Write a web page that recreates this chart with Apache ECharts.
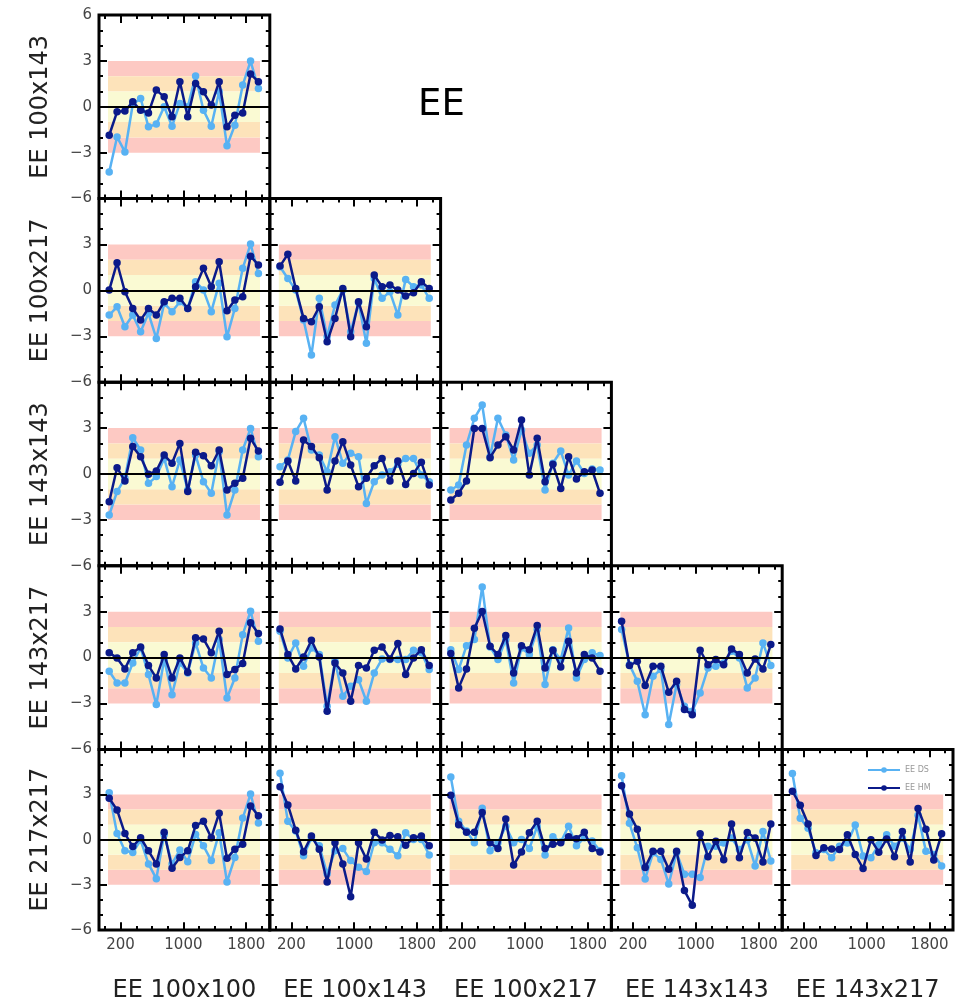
<!DOCTYPE html>
<html><head><meta charset="utf-8">
<script src="https://cdn.jsdelivr.net/npm/echarts@6/dist/echarts.min.js"></script>
<style>html,body{margin:0;padding:0;background:#fff}#c{width:965px;height:1004px}</style>
</head><body><div id="c"></div>
<script>
// multipole bin centres
const ELL = [55,155,255,355,455,555,655,755,855,955,1055,1155,1255,1355,1455,1555,1655,1755,1855,1955];
const ROW_LABELS = ['EE 100x143','EE 100x217','EE 143x143','EE 143x217','EE 217x217'];
const COL_LABELS = ['EE 100x100','EE 100x143','EE 100x217','EE 143x143','EE 143x217'];
const X_MAJOR = [200,1000,1800];
const X_MINOR = [0,400,600,800,1200,1400,1600,2000];
const Y_MAJOR = [-3,0,3];
const Y_MINOR = [-5,-4,-2,-1,1,2,4,5];
const SERIES_NAMES = ['EE DS','EE HM'];

const DS_0_0 = [-4.26,-1.97,-2.95,0.17,0.55,-1.31,-1.13,0.0,-1.27,0.22,0.0,2.01,-0.22,-1.27,1.0,-2.55,-1.2,1.42,2.99,1.2];
const HM_0_0 = [-1.86,-0.33,-0.28,0.33,-0.22,-0.4,1.09,0.65,-0.65,1.64,-0.65,1.53,0.98,0.11,1.64,-1.31,-0.55,-0.4,2.14,1.64];

const DS_1_0 = [-1.61,-1.07,-2.38,-1.61,-2.70,-1.50,-3.14,-0.85,-1.39,-0.74,-1.18,0.57,0.02,-1.39,0.46,-3.03,-1.18,1.44,3.03,1.11];
const HM_1_0 = [0.02,1.81,-0.09,-1.18,-1.94,-1.18,-1.61,-0.74,-0.52,-0.52,-1.18,0.24,1.44,0.24,1.87,-1.33,-0.63,-0.41,2.24,1.66];
const DS_1_1 = [1.55,0.78,0.02,-1.94,-4.23,-0.52,-3.03,-0.96,0.02,-2.70,-0.8,-3.46,0.78,-0.52,-0.09,-1.61,0.72,0.24,0.35,-0.52];
const HM_1_1 = [1.59,2.37,0.13,-1.83,-2.05,-1.07,-3.36,-1.83,0.13,-3.03,-0.74,-2.38,1.00,0.24,0.35,0.02,-0.37,-0.15,0.57,0.13];

const DS_2_0 = [-2.68,-1.15,-0.28,2.37,1.57,-0.61,-0.17,1.02,-0.83,0.92,-1.05,1.24,-0.50,-1.26,1.46,-2.68,-1.05,1.57,2.98,1.13];
const HM_2_0 = [-1.81,0.41,-0.46,1.79,1.13,-0.02,0.20,1.24,0.70,2.00,-1.15,1.42,1.20,0.54,1.57,-1.05,-0.61,-0.28,2.33,1.50];
const DS_2_1 = [0.48,0.92,2.77,3.64,1.57,1.24,0.15,2.44,0.70,1.35,1.13,-1.92,-0.50,-0.07,0.15,0.63,1.02,1.02,-0.07,-0.50];
const HM_2_1 = [-0.54,0.85,-0.46,2.22,1.79,1.07,-1.05,0.85,2.11,0.59,-0.83,-0.28,0.54,1.02,-0.46,0.85,-0.68,0.04,0.76,-0.72];
const DS_2_2 = [-1.05,-0.72,1.90,3.64,4.51,1.13,3.64,2.55,0.92,2.88,1.35,1.90,-1.05,0.70,1.50,-0.07,0.85,0.04,0.33,0.26];
const HM_2_2 = [-1.70,-1.26,-0.46,2.98,2.98,1.07,1.90,2.44,1.57,3.53,-0.07,2.33,-0.50,0.63,-0.94,1.13,-0.33,0.15,0.26,-1.26];

const DS_3_0 = [-0.89,-1.66,-1.66,-0.35,0.63,-1.11,-3.07,-0.13,-2.42,-0.35,-1.0,0.96,-0.68,-1.33,1.18,-2.64,-1.33,1.50,3.03,1.07];
const HM_3_0 = [0.31,-0.02,-0.74,0.31,0.70,-0.52,-1.33,0.20,-1.33,-0.02,-0.96,1.29,1.22,0.31,1.72,-1.11,-0.78,-0.39,2.27,1.57];
const DS_3_1 = [1.72,-0.02,0.96,-0.57,0.63,0.20,-3.18,-0.24,-2.53,-1.87,-1.44,-2.85,-1.00,-0.09,-0.13,-0.13,-0.13,0.48,0.31,-0.78];
const HM_3_1 = [1.87,0.20,-0.74,0.04,1.13,0.04,-3.51,-0.35,-1.00,-2.85,-0.52,-0.68,0.48,0.70,-0.09,0.92,-1.11,-0.02,0.52,-0.52];
const DS_3_2 = [0.52,-0.78,0.78,1.18,4.62,0.70,-0.13,1.18,-1.66,0.63,0.20,1.83,-1.76,0.52,-0.13,1.94,-1.33,-0.13,0.31,0.13];
const HM_3_2 = [0.26,-1.98,-0.74,1.92,3.01,0.74,0.20,1.44,-1.00,0.78,0.52,2.09,-0.68,0.48,-0.61,1.07,-1.00,0.20,-0.02,-0.89];
const DS_3_3 = [1.83,-0.46,-1.55,-3.73,-1.22,-0.78,-4.38,-1.76,-3.18,-3.51,-2.31,-0.68,-0.57,-0.35,0.41,-0.02,-1.98,-1.33,0.96,-0.52];
const HM_3_3 = [2.37,-0.52,-0.24,-1.83,-0.57,-0.57,-2.27,-1.55,-3.40,-3.73,0.48,-0.46,-0.13,-0.46,0.57,0.20,-1.00,-0.09,-0.74,0.85];

const DS_4_0 = [3.12,0.41,-0.74,-0.85,-0.02,-1.61,-2.59,0.35,-1.61,-0.68,-1.46,0.35,-0.41,-1.39,0.46,-2.81,-1.18,1.44,3.03,1.11];
const HM_4_0 = [2.75,1.98,0.41,-0.46,0.13,-0.74,-1.61,0.50,-1.90,-1.18,-0.74,0.94,1.22,0.13,1.76,-1.24,-0.63,-0.31,2.24,1.59];
const DS_4_1 = [4.42,1.22,0.57,-1.07,0.13,-0.41,-2.27,-0.74,-0.59,-1.39,-1.83,-2.11,-0.20,-0.20,-0.63,-1.07,0.46,0.02,0.02,-1.02];
const HM_4_1 = [3.51,2.31,0.63,-0.81,0.24,-0.63,-2.81,-0.20,-1.61,-3.79,-0.20,-1.29,0.50,-0.02,0.28,0.20,-0.37,0.13,0.24,-0.41];
const DS_4_2 = [4.16,1.22,0.57,-0.20,2.09,-0.74,-0.20,0.89,-0.20,0.02,-0.59,0.89,-1.02,0.20,-0.15,0.89,-0.41,0.13,-0.09,-0.74];
const HM_4_2 = [2.96,1.00,0.50,0.50,1.81,-0.20,-0.59,1.37,-1.68,-0.81,0.46,1.22,-0.59,-0.31,-0.20,0.20,0.07,0.50,-0.59,-0.81];
const DS_4_3 = [4.25,1.09,-0.54,-2.61,-0.87,-1.31,-2.94,-0.87,-2.29,-2.29,-2.51,-0.44,-0.44,-0.22,0.11,-0.65,0.0,-1.74,0.54,-1.42];
const HM_4_3 = [3.59,1.70,0.70,-1.85,-0.76,-0.76,-1.96,-0.76,-3.38,-4.36,0.39,-1.13,-0.11,-1.33,1.05,-1.20,0.48,0.11,-1.48,1.05];
const DS_4_4 = [4.40,1.42,0.76,-0.87,-0.65,-1.20,-0.44,-0.22,0.98,-1.09,-1.20,-0.33,0.33,-0.44,0.11,-0.65,1.63,-0.76,-0.98,-1.74];
const HM_4_4 = [3.22,2.29,1.05,-1.05,-0.54,-0.61,-0.65,0.33,-0.98,-1.92,0.0,-0.83,0.04,-1.13,0.54,-1.48,2.07,0.70,-1.35,0.39];

const PANELS = [
  [0,0,DS_0_0,HM_0_0],
  [1,0,DS_1_0,HM_1_0],[1,1,DS_1_1,HM_1_1],
  [2,0,DS_2_0,HM_2_0],[2,1,DS_2_1,HM_2_1],[2,2,DS_2_2,HM_2_2],
  [3,0,DS_3_0,HM_3_0],[3,1,DS_3_1,HM_3_1],[3,2,DS_3_2,HM_3_2],[3,3,DS_3_3,HM_3_3],
  [4,0,DS_4_0,HM_4_0],[4,1,DS_4_1,HM_4_1],[4,2,DS_4_2,HM_4_2],[4,3,DS_4_3,HM_4_3],[4,4,DS_4_4,HM_4_4]
];

// layout / style constants
const GRID_L = 99, GRID_T = 15, CW = 170.8, RH = 183.6;
const X_MIN = -75, X_MAX = 2100, Y_MIN = -6, Y_MAX = 6;
const BAND_X = [40, 1975];
const FONT = 'DejaVu Sans';
const C_DS = '#58b2f3', C_HM = '#0b1a8a';
const TICK_PX_MAJOR = 8, TICK_PX_MINOR = 4;
const BANDS = [
  [2,3,'#fdc9c3'],[-3,-2,'#fdc9c3'],
  [1,2,'#fde3ba'],[-2,-1,'#fde3ba'],
  [-1,1,'#fafad3']
];
const fmtY = v => (v < 0 ? '\u2212' + Math.abs(v) : String(v));

// tick lengths expressed in axis units (pixels -> data via the panel scale)
const unitX = px => px * (X_MAX - X_MIN) / CW;
const unitY = px => px * (Y_MAX - Y_MIN) / RH;
const TICK_STYLE = { color: '#000', width: 2, type: 'solid' };
function tickSegments() {
  const segs = [];
  const addX = (v, px) => {
    segs.push([{ coord: [v, Y_MIN] }, { coord: [v, Y_MIN + unitY(px)] }]);
    segs.push([{ coord: [v, Y_MAX] }, { coord: [v, Y_MAX - unitY(px)] }]);
  };
  const addY = (v, px) => {
    segs.push([{ coord: [X_MIN, v] }, { coord: [X_MIN + unitX(px), v] }]);
    segs.push([{ coord: [X_MAX, v] }, { coord: [X_MAX - unitX(px), v] }]);
  };
  X_MAJOR.forEach(v => addX(v, TICK_PX_MAJOR));
  X_MINOR.forEach(v => addX(v, TICK_PX_MINOR));
  Y_MAJOR.forEach(v => addY(v, TICK_PX_MAJOR));
  Y_MINOR.forEach(v => addY(v, TICK_PX_MINOR));
  return segs;
}
const TICK_SEGS = tickSegments();

const option = {
  animation: false,
  backgroundColor: '#fff',
  title: { text: 'EE', left: 413, top: 82, textStyle: { fontFamily: FONT, fontSize: 37, fontWeight: 'normal', color: '#000' } },
  legend: {
    data: SERIES_NAMES, orient: 'vertical', left: 862, top: 761,
    itemWidth: 32, itemHeight: 7, itemGap: 10,
    textStyle: { fontFamily: FONT, fontSize: 8, color: '#999' }
  },
  grid: [], xAxis: [], yAxis: [], series: []
};

PANELS.forEach(([r, c, ds, hm], g) => {
  option.grid.push({ left: GRID_L + c * CW, top: GRID_T + r * RH, width: CW, height: RH,
    show: true, borderColor: '#000', borderWidth: 3, backgroundColor: 'transparent' });
  option.xAxis.push({
    type: 'value', gridIndex: g, min: X_MIN, max: X_MAX, position: 'bottom',
    axisLine: { show: false }, splitLine: { show: false }, axisTick: { show: false },
    axisLabel: { show: r === 4, customValues: X_MAJOR, formatter: v => String(v), margin: 8,
      fontFamily: FONT, fontSize: 15, color: '#444' },
    name: r === 4 ? COL_LABELS[c] : '', nameLocation: 'middle', nameGap: 49,
    nameTextStyle: { fontFamily: FONT, fontSize: 24, color: '#222' }
  });
  option.yAxis.push({
    type: 'value', gridIndex: g, min: Y_MIN, max: Y_MAX, interval: 3, position: 'left',
    axisLine: { show: false }, splitLine: { show: false }, axisTick: { show: false }, minorTick: { show: false },
    axisLabel: { show: c === 0, margin: 7, fontFamily: FONT, fontSize: 15, color: '#444',
      formatter: v => (v === Y_MAX && r > 0) ? '' : fmtY(v) },
    name: c === 0 ? ROW_LABELS[r] : '', nameLocation: 'middle', nameRotate: 90, nameGap: 46,
    nameTextStyle: { fontFamily: FONT, fontSize: 24, color: '#222' }
  });

  // background bands + zero line
  option.series.push({
    type: 'line', xAxisIndex: g, yAxisIndex: g, data: [], silent: true, z: 1,
    markArea: { silent: true, data: BANDS.map(([lo, hi, col]) => [
      { xAxis: BAND_X[0], yAxis: lo, itemStyle: { color: col } },
      { xAxis: BAND_X[1], yAxis: hi }]) },
    markLine: { silent: true, symbol: 'none', label: { show: false },
      lineStyle: { color: '#000', width: 2, type: 'solid' }, data: [{ yAxis: 0 }] }
  });
  // inward ticks on all four sides of the frame
  option.series.push({
    type: 'line', xAxisIndex: g, yAxisIndex: g, data: [], silent: true, z: 5,
    markLine: { silent: true, symbol: 'none', label: { show: false }, lineStyle: TICK_STYLE,
      emphasis: { disabled: true }, data: TICK_SEGS }
  });
  [[ds, SERIES_NAMES[0], C_DS, 2], [hm, SERIES_NAMES[1], C_HM, 3]].forEach(([vals, name, col, z]) => {
    option.series.push({
      type: 'line', name, xAxisIndex: g, yAxisIndex: g, z,
      data: ELL.map((l, i) => [l, vals[i]]),
      symbol: 'circle', symbolSize: 7.5, showAllSymbol: true,
      lineStyle: { color: col, width: 2.5 }, itemStyle: { color: col }
    });
  });
});

const chart = echarts.init(document.getElementById('c'), null, { renderer: 'canvas' });
chart.setOption(option);
</script>
</body></html>
